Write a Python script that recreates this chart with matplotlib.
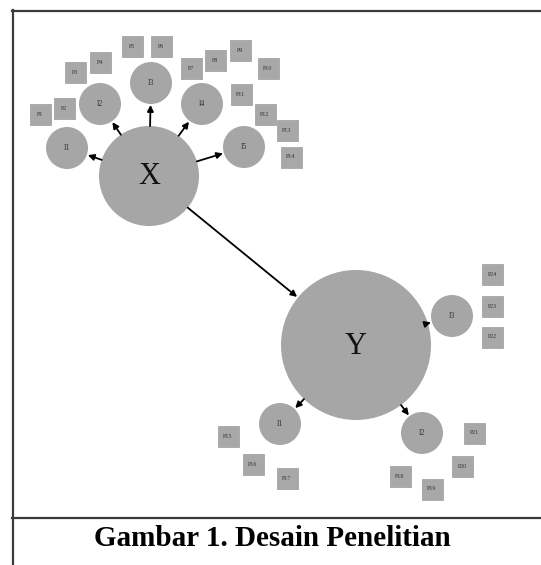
import matplotlib.pyplot as plt
import numpy as np
from matplotlib.patches import Circle, Rectangle, FancyArrowPatch

# variabel utama (pusat & jari-jari dalam piksel)
latent_names = ["X", "Y"]
latent_xy = [(149, 176), (356, 345)]
latent_r = [50, 75]

# indikator (lingkaran kecil) dan induknya
ind_names = ["I1", "I2", "I3", "I4", "I5", "I1", "I2", "I3"]
ind_parent = [0, 0, 0, 0, 0, 1, 1, 1]
ind_xy = [(67, 148), (100, 104), (151, 83), (202, 104), (244, 147),
          (280, 424), (422, 433), (452, 316)]
ind_r = 21

# item pernyataan (kotak)
item_names = ["P1", "P2", "P3", "P4", "P5", "P6", "P7", "P8", "P9", "P10",
              "P11", "P12", "P13", "P14", "P15", "P16", "P17", "P18", "P19",
              "P20", "P21", "P22", "P23", "P24"]
item_xy = [(40, 114), (64, 108), (75, 72), (100, 62), (132, 46), (161, 46),
           (191, 68), (215, 60), (240, 50), (268, 68), (241, 94), (265, 114),
           (287, 130), (291, 157), (228, 436), (253, 464), (287, 478),
           (400, 476), (432, 489), (462, 466), (474, 433), (492, 337),
           (492, 306), (492, 274)]
item_size = 21

caption = "Gambar 1. Desain Penelitian"

W, H = 541, 565
fill = "#a6a6a6"
serif = ["Liberation Serif", "DejaVu Serif"]

fig = plt.figure(figsize=(W / 100, H / 100), dpi=100)
ax = fig.add_axes([0, 0, 1, 1])
ax.set_xlim(0, W)
ax.set_ylim(H, 0)
ax.axis("off")


def arrow(p, rp, q, rq):
    p = np.array(p, float)
    q = np.array(q, float)
    d = (q - p) / np.linalg.norm(q - p)
    a = p + d * rp
    b = q - d * (rq + 1)
    ax.add_patch(FancyArrowPatch(a, b, arrowstyle="-|>", mutation_scale=9,
                                 lw=1.3, color="black", shrinkA=0, shrinkB=0,
                                 zorder=4))


# kotak item
for name, (x, y) in zip(item_names, item_xy):
    ax.add_patch(Rectangle((x - item_size / 2, y - item_size / 2), item_size,
                           item_size, facecolor="#a8a8a8", edgecolor="#9c9c9c",
                           lw=0.5, zorder=2))
    ax.text(x, y, name, ha="center", va="center", fontsize=4.3,
            family=serif, color="#333333", zorder=3)

# lingkaran indikator
for name, par, (x, y) in zip(ind_names, ind_parent, ind_xy):
    ax.add_patch(Circle((x, y), ind_r, facecolor=fill, edgecolor="none",
                        zorder=2))
    ax.text(x, y, name, ha="center", va="center", fontsize=5.5,
            family=serif, color="#333333", zorder=3)
    arrow(latent_xy[par], latent_r[par], (x, y), ind_r)

# variabel laten
for name, (x, y), r in zip(latent_names, latent_xy, latent_r):
    ax.add_patch(Circle((x, y), r, facecolor=fill, edgecolor="none",
                        zorder=2))
    ax.text(x, y + 1, name, ha="center", va="center", fontsize=22,
            family=serif, color="#111111", zorder=3)

arrow(latent_xy[0], latent_r[0], latent_xy[1], latent_r[1])

# bingkai
ax.plot([12.5, 12.5], [10, H], color="#3c3c3c", lw=1.6)
ax.plot([12, W], [10.5, 10.5], color="#3c3c3c", lw=1.6)
ax.plot([12, W], [518, 518], color="#3c3c3c", lw=1.6)

ax.text(272, 538, caption, ha="center", va="center", fontsize=21,
        fontweight="bold", family=serif, color="black")

fig.savefig("out.png", dpi=100)
